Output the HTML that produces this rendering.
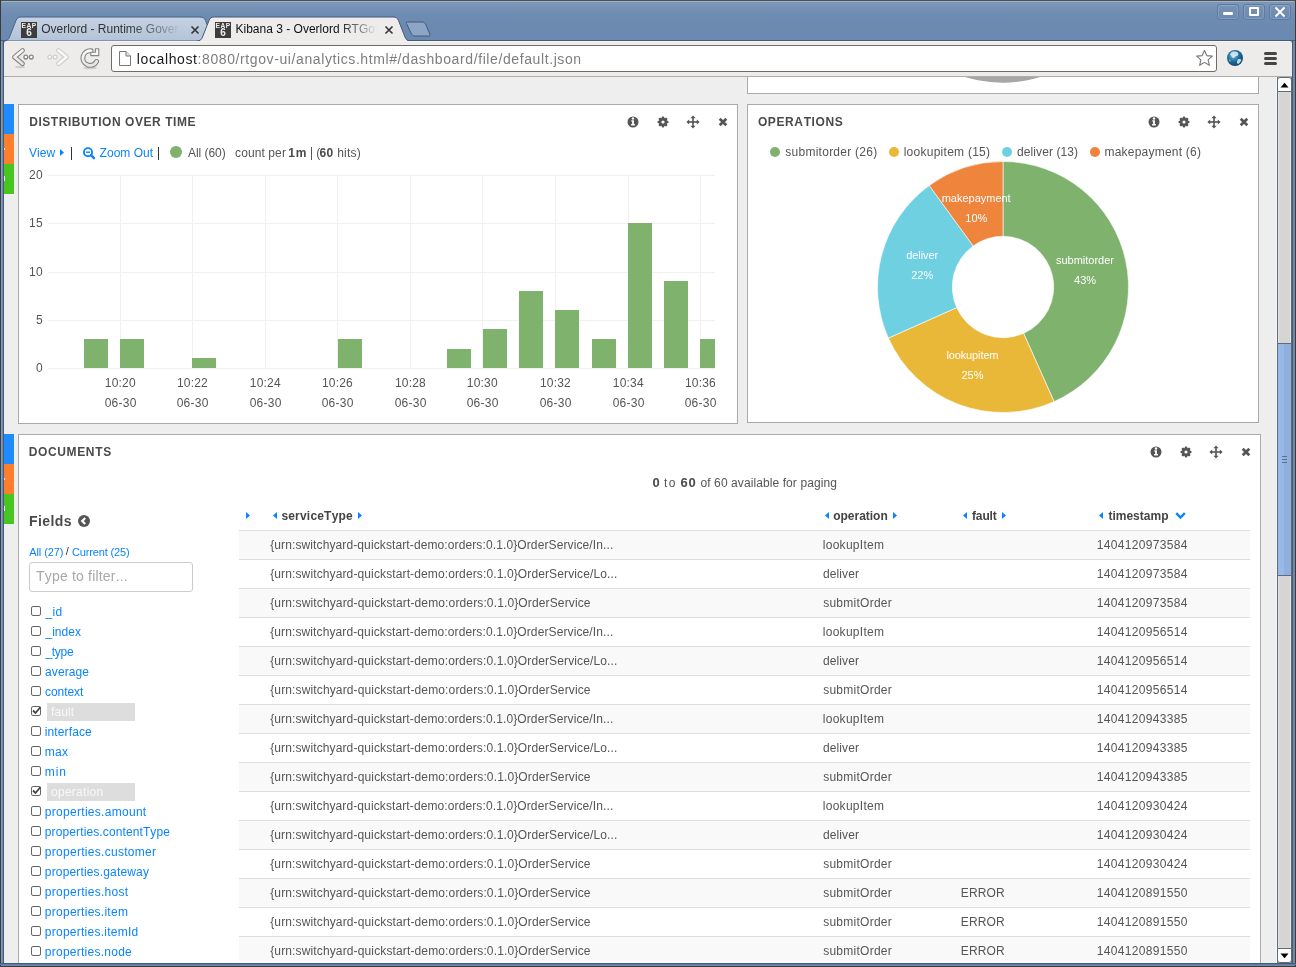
<!DOCTYPE html>
<html><head><meta charset="utf-8"><title>Kibana 3</title>
<style>
*{box-sizing:border-box;margin:0;padding:0}
html,body{width:1296px;height:967px;overflow:hidden;background:#3b3b3b;font-family:"Liberation Sans",sans-serif;font-kerning:none}
.abs{position:absolute}
.t{position:absolute;white-space:pre;line-height:1;font-kerning:none;transform:translateZ(0)}
</style></head><body>

<div class="abs" style="left:0;top:0;width:1296px;height:967px;background:#6b8ab1"></div>
<div class="abs" style="left:0;top:0;width:1296px;height:41px;background:linear-gradient(#9fb3cf 0,#9fb3cf 2px,#7b98b9 2px,#6e8bb1 15px,#6a89b0 100%);border-radius:5px 5px 0 0"></div>
<div class="abs" style="left:0;top:0;width:1296px;height:1px;background:#52504b"></div>
<div class="abs" style="left:0;top:40px;width:1296px;height:1px;background:#475c7b"></div>
<div class="abs" style="left:0;top:0;width:1px;height:967px;background:#3e3b36"></div>
<div class="abs" style="left:1px;top:41px;width:1px;height:926px;background:#7f9cc3"></div>
<div class="abs" style="left:3px;top:41px;width:1px;height:922px;background:#455b78"></div>
<div class="abs" style="left:1292px;top:41px;width:1px;height:922px;background:#4a5a70"></div>
<div class="abs" style="left:1295px;top:0;width:1px;height:967px;background:#3e3b36"></div>
<div class="abs" style="left:0;top:963px;width:1296px;height:1px;background:#465a78"></div>
<div class="abs" style="left:0;top:964px;width:1296px;height:1px;background:#607ca0"></div>
<div class="abs" style="left:0;top:966px;width:1296px;height:1px;background:#3e3b36"></div>
<div class="abs" style="left:1217px;top:4px;width:22px;height:16px;border:1px solid #5d7ba3;border-radius:3px;box-shadow:inset 0 0 0 1px rgba(255,255,255,0.15)"></div>
<div class="abs" style="left:1243px;top:4px;width:22px;height:16px;border:1px solid #5d7ba3;border-radius:3px;box-shadow:inset 0 0 0 1px rgba(255,255,255,0.15)"></div>
<div class="abs" style="left:1269px;top:4px;width:22px;height:16px;border:1px solid #5d7ba3;border-radius:3px;box-shadow:inset 0 0 0 1px rgba(255,255,255,0.15)"></div>
<div class="abs" style="left:1223px;top:12px;width:10px;height:3px;background:#fff;border-radius:1px"></div>
<div class="abs" style="left:1249px;top:7px;width:10px;height:9px;border:2px solid #fff;border-radius:1px"></div>
<svg class="abs" style="left:1274px;top:6px" width="12" height="12"><path d="M1.5 1.5L10.5 10.5M10.5 1.5L1.5 10.5" stroke="#fff" stroke-width="1.8"/></svg>
<svg class="abs" style="left:0;top:0" width="440" height="42">
<defs><linearGradient id="itab" x1="0" y1="0" x2="0" y2="1"><stop offset="0" stop-color="#c6d2e2"/><stop offset="1" stop-color="#b3c3d8"/></linearGradient></defs>
<path d="M4 41 C7 41 8.5 39.5 9.5 37 L16 20.5 C17 18 18.5 17 21.5 17 L200 17 C203 17 204.5 18 205.5 20.5 L212 37 C213 39.5 214.5 41 217 41 Z" fill="url(#itab)" stroke="#4a6184" stroke-width="1"/>
<path d="M197 41.5 C200 41 201.5 39.5 202.5 37 L209 20.5 C210 18 211.5 17 214.5 17 L393 17 C396 17 397.5 18 398.5 20.5 L405 37 C406 39.5 407.5 41 410 41.5 Z" fill="#edeceb"/>
<path d="M197 41 C200 41 201.5 39.5 202.5 37 L209 20.5 C210 18 211.5 17 214.5 17 L393 17 C396 17 397.5 18 398.5 20.5 L405 37 C406 39.5 407.5 41 410 41" fill="none" stroke="#42597c" stroke-width="1"/>
<path d="M406.5 23.5 C406 22.5 406.5 22 407.5 22 L422 22 C424 22 425 23 426 25 L430 34.5 C430.5 35.5 430 36 429 36 L415 36 C413 36 412 35 411.5 34 Z" fill="#8ea6c6" stroke="#42597c" stroke-width="1"/>
</svg>
<div class="abs" style="left:21px;top:22px;width:16px;height:16px;background:#3d3d3d"></div>
<div class="t" style="left:21.2px;top:22.8px;width:16px;text-align:center;font-size:6.6px;font-weight:bold;color:#eee;letter-spacing:0.6px">EAP</div>
<div class="t" style="left:21px;top:28px;width:16px;text-align:center;font-size:10px;font-weight:bold;color:#eee">6</div>
<div class="abs" style="left:215px;top:22px;width:16px;height:16px;background:#3d3d3d"></div>
<div class="t" style="left:215.2px;top:22.8px;width:16px;text-align:center;font-size:6.6px;font-weight:bold;color:#eee;letter-spacing:0.6px">EAP</div>
<div class="t" style="left:215px;top:28px;width:16px;text-align:center;font-size:10px;font-weight:bold;color:#eee">6</div>
<div class="t" style="left:41.13px;top:23.00px;font-size:12px;color:#2e3436;font-weight:normal;letter-spacing:0.000px;width:140px;overflow:hidden;-webkit-mask-image:linear-gradient(90deg,#000 0,#000 85px,rgba(0,0,0,0.5) 120px,transparent 140px)">Overlord - Runtime Gover</div>
<div class="t" style="left:235.52px;top:23.00px;font-size:12px;color:#111;font-weight:normal;letter-spacing:0.000px;width:141px;overflow:hidden;-webkit-mask-image:linear-gradient(90deg,#000 0,#000 100px,rgba(0,0,0,0.5) 125px,transparent 141px)">Kibana 3 - Overlord RTGov</div>
<svg class="abs" style="left:190px;top:25px" width="10" height="10"><path d="M1.5 1.5L8.5 8.5M8.5 1.5L1.5 8.5" stroke="#333" stroke-width="1.6"/></svg>
<svg class="abs" style="left:384px;top:25px" width="10" height="10"><path d="M1.5 1.5L8.5 8.5M8.5 1.5L1.5 8.5" stroke="#333" stroke-width="1.6"/></svg>
<div class="abs" style="left:4px;top:41px;width:1288px;height:36px;background:#edeceb;border-radius:3px 3px 0 0;border-top:1px solid #f6f4f1;border-bottom:1px solid #b0aeaa"></div>
<svg class="abs" style="left:0;top:44px" width="110" height="28">
<defs><linearGradient id="ibody" x1="0" y1="0" x2="0" y2="1"><stop offset="0" stop-color="#fbfbfb"/><stop offset="1" stop-color="#e4e4e3"/></linearGradient></defs>
<g fill="none" stroke-linecap="round" stroke-linejoin="round" transform="translate(0,-44)">
<ellipse cx="20" cy="67" rx="5" ry="1.2" fill="#cfcecc" stroke="none"/>
<path d="M22.5 50.5 L14.5 57.1 L22.5 63.7" stroke="#858583" stroke-width="4.8"/>
<path d="M22.5 50.5 L14.5 57.1 L22.5 63.7" stroke="url(#ibody)" stroke-width="2.6"/>
<circle cx="25.8" cy="57.1" r="1.9" stroke="#858583" stroke-width="1.3" fill="#fafafa"/>
<circle cx="31.3" cy="57.1" r="1.9" stroke="#858583" stroke-width="1.3" fill="#fafafa"/>
<path d="M58.5 50.5 L66.5 57.1 L58.5 63.7" stroke="#cdcdcb" stroke-width="4.8"/>
<path d="M58.5 50.5 L66.5 57.1 L58.5 63.7" stroke="#f7f7f6" stroke-width="2.6"/>
<circle cx="49.7" cy="57.1" r="1.9" stroke="#d0d0ce" stroke-width="1.3" fill="#f8f8f7"/>
<circle cx="55.1" cy="57.1" r="1.9" stroke="#d0d0ce" stroke-width="1.3" fill="#f8f8f7"/>
<ellipse cx="90" cy="68" rx="7" ry="1.3" fill="#cfcecc" stroke="none"/>
<path d="M91 50.8 A7.3 7.3 0 1 0 96.6 61.5" stroke="#858583" stroke-width="5"/>
<path d="M91 50.8 A7.3 7.3 0 1 0 96.6 61.5" stroke="url(#ibody)" stroke-width="2.8"/>
<path d="M90.8 52.2 L90.8 55.6 L98.8 55.6 L98.8 48.8 L95.4 48.8 L95.4 52.2 Z" fill="#f6f6f5" stroke="#858583" stroke-width="1.1" stroke-linejoin="round"/>
</g></svg>
<div class="abs" style="left:111px;top:45px;width:1106px;height:27px;background:#fff;border:1px solid #6f6b67;border-radius:3px"></div>
<svg class="abs" style="left:118px;top:50px" width="14" height="17"><path d="M1.5 1.5 H8 L12.5 6 V15.5 H1.5 Z" fill="#fff" stroke="#777" stroke-width="1"/><path d="M8 1.5 V6 H12.5" fill="#e6e6e6" stroke="#777" stroke-width="1"/></svg>
<div class="t" style="left:136.86px;top:52.0px;font-size:14px;letter-spacing:0.600px;color:#1a1a1a">localhost<span style="color:#7d7d7d">:8080/rtgov-ui/analytics.html#/dashboard/file/default.json</span></div>
<svg class="abs" style="left:1195px;top:49px" width="19" height="19"><path d="M9.5 1.5 L11.8 6.6 L17.3 7.1 L13.1 10.8 L14.4 16.3 L9.5 13.4 L4.6 16.3 L5.9 10.8 L1.7 7.1 L7.2 6.6 Z" fill="#fff" stroke="#777" stroke-width="1.1" stroke-linejoin="round"/></svg>
<svg class="abs" style="left:1226px;top:49px" width="18" height="18"><defs><radialGradient id="gl" cx="0.4" cy="0.35" r="0.7"><stop offset="0" stop-color="#7fc0e6"/><stop offset="0.5" stop-color="#1f6f9e"/><stop offset="1" stop-color="#0d3f66"/></radialGradient></defs>
<circle cx="9" cy="9" r="8" fill="url(#gl)"/><path d="M7 2.5 Q10 2 12 3.5 Q13 6 11 7 Q9 6.5 8.5 8.5 Q7 9.5 6 8 Q5 6 4 5.5 Q5 3 7 2.5 Z M12 10 Q15 9.5 15.5 11 Q14 14 12 15 Q10.5 14 11 12.5 Z M3 10 Q5 11 4.5 13 Q3.2 12 3 10Z" fill="#dfeef6" opacity="0.85"/></svg>
<div class="abs" style="left:1264px;top:52px;width:13px;height:3px;background:#454545;border-radius:1.5px"></div>
<div class="abs" style="left:1264px;top:57px;width:13px;height:3px;background:#454545;border-radius:1.5px"></div>
<div class="abs" style="left:1264px;top:62px;width:13px;height:3px;background:#454545;border-radius:1.5px"></div>
<div class="abs" style="left:4px;top:77px;width:1273px;height:886px;background:#eeeeee;overflow:hidden">
<div class="abs" style="left:0;top:27px;width:10px;height:30px;background:#1f8bfd"></div>
<div class="abs" style="left:0;top:57px;width:10px;height:30px;background:#fe7e2d"></div>
<div class="abs" style="left:0;top:87px;width:10px;height:30px;background:#48c51f"></div>
<div class="abs" style="left:0;top:71px;width:1px;height:2px;background:#fff"></div>
<div class="abs" style="left:0;top:99px;width:1px;height:5px;background:#fff"></div>
<div class="abs" style="left:0;top:357px;width:10px;height:30px;background:#1f8bfd"></div>
<div class="abs" style="left:0;top:387px;width:10px;height:30px;background:#fe7e2d"></div>
<div class="abs" style="left:0;top:417px;width:10px;height:30px;background:#48c51f"></div>
<div class="abs" style="left:0;top:401px;width:1px;height:2px;background:#fff"></div>
<div class="abs" style="left:0;top:429px;width:1px;height:5px;background:#fff"></div>
<div class="abs" style="left:743px;top:-17px;width:512px;height:34px;background:#fff;border:1px solid #aaaaaa"></div>
<svg class="abs" style="left:743px;top:0" width="512" height="16"><circle cx="255.60000000000002" cy="-120.8" r="126.5" fill="#a6a6a6"/></svg>
<div class="abs" style="left:14px;top:27px;width:720px;height:320px;background:#fff;border:1px solid #aaaaaa"></div>
<div class="abs" style="left:743px;top:27px;width:512px;height:319px;background:#fff;border:1px solid #aaaaaa"></div>
<div class="abs" style="left:14px;top:357px;width:1243px;height:600px;background:#fff;border:1px solid #aaaaaa"></div>
<div class="t" style="left:25.20px;top:39.00px;font-size:12px;color:#4a4a4a;font-weight:bold;letter-spacing:0.552px;">DISTRIBUTION OVER TIME</div>
<svg class="abs" style="left:622.00px;top:37.90px" width="14" height="14"><g transform="translate(7,7)"><circle r="5.5" fill="#555"/><circle cx="0" cy="-3.5" r="1.2" fill="#fff"/><path d="M-1.7 -1.7 H0.9 V2.1 H1.9 V3.6 H-1.9 V2.1 H-0.9 V-0.4 H-1.7 Z" fill="#fff"/></g></svg>
<svg class="abs" style="left:651.90px;top:37.90px" width="14" height="14"><g transform="translate(7,7)" fill="#555"><rect x="-1.3" y="-5.5" width="2.6" height="3" rx="1" transform="rotate(0)"/><rect x="-1.3" y="-5.5" width="2.6" height="3" rx="1" transform="rotate(45)"/><rect x="-1.3" y="-5.5" width="2.6" height="3" rx="1" transform="rotate(90)"/><rect x="-1.3" y="-5.5" width="2.6" height="3" rx="1" transform="rotate(135)"/><rect x="-1.3" y="-5.5" width="2.6" height="3" rx="1" transform="rotate(180)"/><rect x="-1.3" y="-5.5" width="2.6" height="3" rx="1" transform="rotate(225)"/><rect x="-1.3" y="-5.5" width="2.6" height="3" rx="1" transform="rotate(270)"/><rect x="-1.3" y="-5.5" width="2.6" height="3" rx="1" transform="rotate(315)"/><circle r="4.1"/><circle r="1.6" fill="#fff"/></g></svg>
<svg class="abs" style="left:681.90px;top:37.90px" width="14" height="14"><g transform="translate(7,7)" fill="#555"><rect x="-0.8" y="-4.5" width="1.6" height="9"/><rect x="-4.5" y="-0.8" width="9" height="1.6"/><path d="M0 -6.6 L2.6 -3.8 H-2.6 Z M0 6.6 L2.6 3.8 H-2.6 Z M-6.6 0 L-3.8 2.6 V-2.6 Z M6.6 0 L3.8 2.6 V-2.6 Z"/></g></svg>
<svg class="abs" style="left:712.60px;top:38.90px" width="12" height="12"><g transform="translate(6,6)"><path d="M-3.3 -3.3 L3.3 3.3 M3.3 -3.3 L-3.3 3.3" stroke="#555" stroke-width="2.7"/></g></svg>
<div class="t" style="left:753.91px;top:39.00px;font-size:12px;color:#4a4a4a;font-weight:bold;letter-spacing:0.613px;">OPERATIONS</div>
<svg class="abs" style="left:1143.00px;top:37.90px" width="14" height="14"><g transform="translate(7,7)"><circle r="5.5" fill="#555"/><circle cx="0" cy="-3.5" r="1.2" fill="#fff"/><path d="M-1.7 -1.7 H0.9 V2.1 H1.9 V3.6 H-1.9 V2.1 H-0.9 V-0.4 H-1.7 Z" fill="#fff"/></g></svg>
<svg class="abs" style="left:1172.90px;top:37.90px" width="14" height="14"><g transform="translate(7,7)" fill="#555"><rect x="-1.3" y="-5.5" width="2.6" height="3" rx="1" transform="rotate(0)"/><rect x="-1.3" y="-5.5" width="2.6" height="3" rx="1" transform="rotate(45)"/><rect x="-1.3" y="-5.5" width="2.6" height="3" rx="1" transform="rotate(90)"/><rect x="-1.3" y="-5.5" width="2.6" height="3" rx="1" transform="rotate(135)"/><rect x="-1.3" y="-5.5" width="2.6" height="3" rx="1" transform="rotate(180)"/><rect x="-1.3" y="-5.5" width="2.6" height="3" rx="1" transform="rotate(225)"/><rect x="-1.3" y="-5.5" width="2.6" height="3" rx="1" transform="rotate(270)"/><rect x="-1.3" y="-5.5" width="2.6" height="3" rx="1" transform="rotate(315)"/><circle r="4.1"/><circle r="1.6" fill="#fff"/></g></svg>
<svg class="abs" style="left:1202.90px;top:37.90px" width="14" height="14"><g transform="translate(7,7)" fill="#555"><rect x="-0.8" y="-4.5" width="1.6" height="9"/><rect x="-4.5" y="-0.8" width="9" height="1.6"/><path d="M0 -6.6 L2.6 -3.8 H-2.6 Z M0 6.6 L2.6 3.8 H-2.6 Z M-6.6 0 L-3.8 2.6 V-2.6 Z M6.6 0 L3.8 2.6 V-2.6 Z"/></g></svg>
<svg class="abs" style="left:1233.60px;top:38.90px" width="12" height="12"><g transform="translate(6,6)"><path d="M-3.3 -3.3 L3.3 3.3 M3.3 -3.3 L-3.3 3.3" stroke="#555" stroke-width="2.7"/></g></svg>
<div class="t" style="left:24.70px;top:369.00px;font-size:12px;color:#4a4a4a;font-weight:bold;letter-spacing:0.642px;">DOCUMENTS</div>
<svg class="abs" style="left:1145.00px;top:367.90px" width="14" height="14"><g transform="translate(7,7)"><circle r="5.5" fill="#555"/><circle cx="0" cy="-3.5" r="1.2" fill="#fff"/><path d="M-1.7 -1.7 H0.9 V2.1 H1.9 V3.6 H-1.9 V2.1 H-0.9 V-0.4 H-1.7 Z" fill="#fff"/></g></svg>
<svg class="abs" style="left:1174.90px;top:367.90px" width="14" height="14"><g transform="translate(7,7)" fill="#555"><rect x="-1.3" y="-5.5" width="2.6" height="3" rx="1" transform="rotate(0)"/><rect x="-1.3" y="-5.5" width="2.6" height="3" rx="1" transform="rotate(45)"/><rect x="-1.3" y="-5.5" width="2.6" height="3" rx="1" transform="rotate(90)"/><rect x="-1.3" y="-5.5" width="2.6" height="3" rx="1" transform="rotate(135)"/><rect x="-1.3" y="-5.5" width="2.6" height="3" rx="1" transform="rotate(180)"/><rect x="-1.3" y="-5.5" width="2.6" height="3" rx="1" transform="rotate(225)"/><rect x="-1.3" y="-5.5" width="2.6" height="3" rx="1" transform="rotate(270)"/><rect x="-1.3" y="-5.5" width="2.6" height="3" rx="1" transform="rotate(315)"/><circle r="4.1"/><circle r="1.6" fill="#fff"/></g></svg>
<svg class="abs" style="left:1204.90px;top:367.90px" width="14" height="14"><g transform="translate(7,7)" fill="#555"><rect x="-0.8" y="-4.5" width="1.6" height="9"/><rect x="-4.5" y="-0.8" width="9" height="1.6"/><path d="M0 -6.6 L2.6 -3.8 H-2.6 Z M0 6.6 L2.6 3.8 H-2.6 Z M-6.6 0 L-3.8 2.6 V-2.6 Z M6.6 0 L3.8 2.6 V-2.6 Z"/></g></svg>
<svg class="abs" style="left:1235.60px;top:368.90px" width="12" height="12"><g transform="translate(6,6)"><path d="M-3.3 -3.3 L3.3 3.3 M3.3 -3.3 L-3.3 3.3" stroke="#555" stroke-width="2.7"/></g></svg>
<div class="t" style="left:24.95px;top:70.00px;font-size:12px;color:#0a84fd;font-weight:normal;letter-spacing:0.071px;">View</div>
<svg class="abs" style="left:56px;top:72px" width="5" height="7"><path d="M0 0 L4 3.5 L0 7Z" fill="#0a84fd"/></svg>
<div class="abs" style="left:67px;top:70px;width:1px;height:13px;background:#333"></div>
<svg class="abs" style="left:78px;top:69px" width="14" height="14"><circle cx="6" cy="6.2" r="4.1" fill="none" stroke="#0a84fd" stroke-width="1.9"/><path d="M4 6.2 H8" stroke="#0a84fd" stroke-width="1.4"/><path d="M9 9.2 L12 12.2" stroke="#0a84fd" stroke-width="2.4" stroke-linecap="round"/></svg>
<div class="t" style="left:95.62px;top:70.00px;font-size:12px;color:#0a84fd;font-weight:normal;letter-spacing:0.017px;">Zoom Out</div>
<div class="abs" style="left:154px;top:70px;width:1px;height:13px;background:#333"></div>
<div class="abs" style="left:166px;top:69px;width:12px;height:12px;border-radius:50%;background:#7eb26d"></div>
<div class="t" style="left:183.98px;top:70.00px;font-size:12px;color:#555;font-weight:normal;letter-spacing:-0.035px;">All (60)</div>
<div class="t" style="left:231.09px;top:70.00px;font-size:12px;color:#555;font-weight:normal;letter-spacing:0.097px;">count per</div>
<div class="t" style="left:284.24px;top:70.00px;font-size:12px;color:#4a4a4a;font-weight:bold;letter-spacing:0.756px;">1m</div>
<div class="abs" style="left:307px;top:70px;width:1px;height:13px;background:#555"></div>
<div class="t" style="left:312.26px;top:70.00px;font-size:12px;color:#555;font-weight:normal;letter-spacing:0.004px;">(</div>
<div class="t" style="left:315.46px;top:70.00px;font-size:12px;color:#4a4a4a;font-weight:bold;letter-spacing:0.484px;">60</div>
<div class="t" style="left:333.17px;top:70.00px;font-size:12px;color:#555;font-weight:normal;letter-spacing:0.227px;">hits)</div>
<svg class="abs" style="left:0;top:0" width="1273" height="886"><rect x="44" y="291" width="667" height="1" fill="#f0f0f0"/><rect x="44" y="243" width="667" height="1" fill="#f0f0f0"/><rect x="44" y="195" width="667" height="1" fill="#f0f0f0"/><rect x="44" y="146" width="667" height="1" fill="#f0f0f0"/><rect x="44" y="98" width="667" height="1" fill="#f0f0f0"/><rect x="116" y="98" width="1" height="193" fill="#f0f0f0"/><rect x="188" y="98" width="1" height="193" fill="#f0f0f0"/><rect x="261" y="98" width="1" height="193" fill="#f0f0f0"/><rect x="333" y="98" width="1" height="193" fill="#f0f0f0"/><rect x="406" y="98" width="1" height="193" fill="#f0f0f0"/><rect x="478" y="98" width="1" height="193" fill="#f0f0f0"/><rect x="551" y="98" width="1" height="193" fill="#f0f0f0"/><rect x="624" y="98" width="1" height="193" fill="#f0f0f0"/><rect x="696" y="98" width="1" height="193" fill="#f0f0f0"/><rect x="80" y="262" width="24" height="29" fill="#7eb26d"/><rect x="116" y="262" width="24" height="29" fill="#7eb26d"/><rect x="188" y="281" width="24" height="10" fill="#7eb26d"/><rect x="334" y="262" width="24" height="29" fill="#7eb26d"/><rect x="443" y="272" width="24" height="19" fill="#7eb26d"/><rect x="479" y="252" width="24" height="39" fill="#7eb26d"/><rect x="515" y="214" width="24" height="77" fill="#7eb26d"/><rect x="551" y="233" width="24" height="58" fill="#7eb26d"/><rect x="588" y="262" width="24" height="29" fill="#7eb26d"/><rect x="624" y="146" width="24" height="145" fill="#7eb26d"/><rect x="660" y="204" width="24" height="87" fill="#7eb26d"/><rect x="696" y="262" width="15" height="29" fill="#7eb26d"/></svg>
<div class="t" style="left:31.99px;top:285.00px;font-size:12px;color:#555;font-weight:normal;letter-spacing:0.326px;">0</div>
<div class="t" style="left:32.03px;top:237.00px;font-size:12px;color:#555;font-weight:normal;letter-spacing:0.326px;">5</div>
<div class="t" style="left:24.99px;top:189.00px;font-size:12px;color:#555;font-weight:normal;letter-spacing:0.326px;">10</div>
<div class="t" style="left:25.03px;top:140.00px;font-size:12px;color:#555;font-weight:normal;letter-spacing:0.326px;">15</div>
<div class="t" style="left:24.99px;top:92.00px;font-size:12px;color:#555;font-weight:normal;letter-spacing:0.326px;">20</div>
<div class="t" style="left:100.87px;top:300.00px;font-size:12px;color:#555;font-weight:normal;letter-spacing:0.194px;">10:20</div>
<div class="t" style="left:100.63px;top:320.00px;font-size:12px;color:#555;font-weight:normal;letter-spacing:0.262px;">06-30</div>
<div class="t" style="left:172.94px;top:300.00px;font-size:12px;color:#555;font-weight:normal;letter-spacing:0.194px;">10:22</div>
<div class="t" style="left:172.63px;top:320.00px;font-size:12px;color:#555;font-weight:normal;letter-spacing:0.262px;">06-30</div>
<div class="t" style="left:245.82px;top:300.00px;font-size:12px;color:#555;font-weight:normal;letter-spacing:0.194px;">10:24</div>
<div class="t" style="left:245.63px;top:320.00px;font-size:12px;color:#555;font-weight:normal;letter-spacing:0.262px;">06-30</div>
<div class="t" style="left:317.90px;top:300.00px;font-size:12px;color:#555;font-weight:normal;letter-spacing:0.194px;">10:26</div>
<div class="t" style="left:317.63px;top:320.00px;font-size:12px;color:#555;font-weight:normal;letter-spacing:0.262px;">06-30</div>
<div class="t" style="left:390.90px;top:300.00px;font-size:12px;color:#555;font-weight:normal;letter-spacing:0.194px;">10:28</div>
<div class="t" style="left:390.63px;top:320.00px;font-size:12px;color:#555;font-weight:normal;letter-spacing:0.262px;">06-30</div>
<div class="t" style="left:462.87px;top:300.00px;font-size:12px;color:#555;font-weight:normal;letter-spacing:0.194px;">10:30</div>
<div class="t" style="left:462.63px;top:320.00px;font-size:12px;color:#555;font-weight:normal;letter-spacing:0.262px;">06-30</div>
<div class="t" style="left:535.94px;top:300.00px;font-size:12px;color:#555;font-weight:normal;letter-spacing:0.194px;">10:32</div>
<div class="t" style="left:535.63px;top:320.00px;font-size:12px;color:#555;font-weight:normal;letter-spacing:0.262px;">06-30</div>
<div class="t" style="left:608.82px;top:300.00px;font-size:12px;color:#555;font-weight:normal;letter-spacing:0.194px;">10:34</div>
<div class="t" style="left:608.63px;top:320.00px;font-size:12px;color:#555;font-weight:normal;letter-spacing:0.262px;">06-30</div>
<div class="t" style="left:680.90px;top:300.00px;font-size:12px;color:#555;font-weight:normal;letter-spacing:0.194px;">10:36</div>
<div class="t" style="left:680.63px;top:320.00px;font-size:12px;color:#555;font-weight:normal;letter-spacing:0.262px;">06-30</div>
<div class="abs" style="left:766px;top:70px;width:10px;height:10px;border-radius:50%;background:#7eb26d"></div>
<div class="t" style="left:781.37px;top:69.00px;font-size:12px;color:#555;font-weight:normal;letter-spacing:0.250px;">submitorder (26)</div>
<div class="abs" style="left:885.4px;top:70px;width:10px;height:10px;border-radius:50%;background:#eab839"></div>
<div class="t" style="left:899.69px;top:69.00px;font-size:12px;color:#555;font-weight:normal;letter-spacing:0.261px;">lookupitem (15)</div>
<div class="abs" style="left:998px;top:70px;width:10px;height:10px;border-radius:50%;background:#6ed0e0"></div>
<div class="t" style="left:1013.10px;top:69.00px;font-size:12px;color:#555;font-weight:normal;letter-spacing:0.075px;">deliver (13)</div>
<div class="abs" style="left:1086.3px;top:70px;width:10px;height:10px;border-radius:50%;background:#ef843c"></div>
<div class="t" style="left:1100.50px;top:69.00px;font-size:12px;color:#555;font-weight:normal;letter-spacing:0.219px;">makepayment (6)</div>
<svg class="abs" style="left:0;top:0" width="1273" height="886"><path d="M999.00 84.50 A125.5 125.5 0 0 1 1050.05 324.65 L1019.62 256.32 A50.7 50.7 0 0 0 999.00 159.30 Z" fill="#7eb26d" stroke="#fff" stroke-width="0.6"/><path d="M1050.05 324.65 A125.5 125.5 0 0 1 884.35 261.05 L952.68 230.62 A50.7 50.7 0 0 0 1019.62 256.32 Z" fill="#eab839" stroke="#fff" stroke-width="0.6"/><path d="M884.35 261.05 A125.5 125.5 0 0 1 925.23 108.47 L969.20 168.98 A50.7 50.7 0 0 0 952.68 230.62 Z" fill="#6ed0e0" stroke="#fff" stroke-width="0.6"/><path d="M925.23 108.47 A125.5 125.5 0 0 1 999.00 84.50 L999.00 159.30 A50.7 50.7 0 0 0 969.20 168.98 Z" fill="#ef843c" stroke="#fff" stroke-width="0.6"/></svg>
<div class="t" style="left:1051.93px;top:177.50px;font-size:11px;color:#fff;font-weight:normal;letter-spacing:-0.007px;">submitorder</div>
<div class="t" style="left:1070.07px;top:197.50px;font-size:11px;color:#fff;font-weight:normal;letter-spacing:-0.005px;">43%</div>
<div class="t" style="left:942.43px;top:272.50px;font-size:11px;color:#fff;font-weight:normal;letter-spacing:-0.120px;">lookupitem</div>
<div class="t" style="left:957.42px;top:292.50px;font-size:11px;color:#fff;font-weight:normal;letter-spacing:-0.005px;">25%</div>
<div class="t" style="left:902.13px;top:172.50px;font-size:11px;color:#fff;font-weight:normal;letter-spacing:-0.058px;">deliver</div>
<div class="t" style="left:907.22px;top:192.50px;font-size:11px;color:#fff;font-weight:normal;letter-spacing:-0.005px;">22%</div>
<div class="t" style="left:937.67px;top:115.50px;font-size:11px;color:#fff;font-weight:normal;letter-spacing:-0.008px;">makepayment</div>
<div class="t" style="left:961.27px;top:135.50px;font-size:11px;color:#fff;font-weight:normal;letter-spacing:-0.005px;">10%</div>
<div class="t" style="left:648.49px;top:399.00px;font-size:13px;color:#4a4a4a;font-weight:bold;letter-spacing:-0.230px;">0</div>
<div class="t" style="left:660.12px;top:400.00px;font-size:12px;color:#555;font-weight:normal;letter-spacing:1.378px;">to</div>
<div class="t" style="left:676.42px;top:399.00px;font-size:13px;color:#4a4a4a;font-weight:bold;letter-spacing:0.749px;">60</div>
<div class="t" style="left:696.50px;top:400.00px;font-size:12px;color:#555;font-weight:normal;letter-spacing:0.091px;">of 60 available for paging</div>
<div class="t" style="left:25.06px;top:437.00px;font-size:14px;color:#4a4a4a;font-weight:bold;letter-spacing:0.411px;">Fields</div>
<svg class="abs" style="left:74px;top:438px" width="12" height="12"><circle cx="6" cy="6" r="6" fill="#555"/><path d="M7.2 3 L4.2 6 L7.2 9" fill="none" stroke="#fff" stroke-width="2.2"/></svg>
<div class="t" style="left:25.18px;top:469.50px;font-size:11px;color:#0a84fd;font-weight:normal;letter-spacing:-0.077px;">All (27)</div>
<div class="t" style="left:61.80px;top:468.50px;font-size:11px;color:#333;font-weight:normal;letter-spacing:-0.056px;">/</div>
<div class="t" style="left:67.94px;top:469.50px;font-size:11px;color:#0a84fd;font-weight:normal;letter-spacing:-0.141px;">Current (25)</div>
<div class="abs" style="left:25px;top:485px;width:164px;height:30px;border:1px solid #cccccc;border-radius:3px;background:#fff"></div>
<div class="t" style="left:31.99px;top:492.00px;font-size:14px;color:#a8a8a8;font-weight:normal;letter-spacing:0.187px;">Type to filter...</div>
<div class="abs" style="left:27px;top:529px;width:10px;height:10px;border:1px solid #666;border-radius:2px;background:#fff"></div>
<div class="t" style="left:41.38px;top:529.00px;font-size:12px;color:#0a84fd;font-weight:normal;letter-spacing:0.389px;">_id</div>
<div class="abs" style="left:27px;top:549px;width:10px;height:10px;border:1px solid #666;border-radius:2px;background:#fff"></div>
<div class="t" style="left:41.38px;top:549.00px;font-size:12px;color:#0a84fd;font-weight:normal;letter-spacing:0.077px;">_index</div>
<div class="abs" style="left:27px;top:569px;width:10px;height:10px;border:1px solid #666;border-radius:2px;background:#fff"></div>
<div class="t" style="left:41.38px;top:569.00px;font-size:12px;color:#0a84fd;font-weight:normal;letter-spacing:-0.276px;">_type</div>
<div class="abs" style="left:27px;top:589px;width:10px;height:10px;border:1px solid #666;border-radius:2px;background:#fff"></div>
<div class="t" style="left:41.09px;top:589.00px;font-size:12px;color:#0a84fd;font-weight:normal;letter-spacing:0.080px;">average</div>
<div class="abs" style="left:27px;top:609px;width:10px;height:10px;border:1px solid #666;border-radius:2px;background:#fff"></div>
<div class="t" style="left:41.09px;top:609.00px;font-size:12px;color:#0a84fd;font-weight:normal;letter-spacing:-0.082px;">context</div>
<div class="abs" style="left:27px;top:629px;width:10px;height:10px;border:1px solid #666;border-radius:2px;background:#fff"></div>
<svg class="abs" style="left:27px;top:628px" width="12" height="11"><path d="M2 5.5 L4.5 8 L9.5 2" fill="none" stroke="#444" stroke-width="1.8"/></svg>
<div class="abs" style="left:43px;top:626px;width:88px;height:18px;background:#dddddd"></div>
<div class="t" style="left:47.03px;top:629.00px;font-size:12px;color:#f8f8f8;font-weight:normal;letter-spacing:0.094px;">fault</div>
<div class="abs" style="left:27px;top:649px;width:10px;height:10px;border:1px solid #666;border-radius:2px;background:#fff"></div>
<div class="t" style="left:40.80px;top:649.00px;font-size:12px;color:#0a84fd;font-weight:normal;letter-spacing:0.114px;">interface</div>
<div class="abs" style="left:27px;top:669px;width:10px;height:10px;border:1px solid #666;border-radius:2px;background:#fff"></div>
<div class="t" style="left:40.80px;top:669.00px;font-size:12px;color:#0a84fd;font-weight:normal;letter-spacing:0.278px;">max</div>
<div class="abs" style="left:27px;top:689px;width:10px;height:10px;border:1px solid #666;border-radius:2px;background:#fff"></div>
<div class="t" style="left:40.80px;top:689.00px;font-size:12px;color:#0a84fd;font-weight:normal;letter-spacing:0.870px;">min</div>
<div class="abs" style="left:27px;top:709px;width:10px;height:10px;border:1px solid #666;border-radius:2px;background:#fff"></div>
<svg class="abs" style="left:27px;top:708px" width="12" height="11"><path d="M2 5.5 L4.5 8 L9.5 2" fill="none" stroke="#444" stroke-width="1.8"/></svg>
<div class="abs" style="left:43px;top:706px;width:88px;height:18px;background:#dddddd"></div>
<div class="t" style="left:47.00px;top:709.00px;font-size:12px;color:#f8f8f8;font-weight:normal;letter-spacing:0.268px;">operation</div>
<div class="abs" style="left:27px;top:729px;width:10px;height:10px;border:1px solid #666;border-radius:2px;background:#fff"></div>
<div class="t" style="left:40.83px;top:729.00px;font-size:12px;color:#0a84fd;font-weight:normal;letter-spacing:0.290px;">properties.amount</div>
<div class="abs" style="left:27px;top:749px;width:10px;height:10px;border:1px solid #666;border-radius:2px;background:#fff"></div>
<div class="t" style="left:40.83px;top:749.00px;font-size:12px;color:#0a84fd;font-weight:normal;letter-spacing:0.113px;">properties.contentType</div>
<div class="abs" style="left:27px;top:769px;width:10px;height:10px;border:1px solid #666;border-radius:2px;background:#fff"></div>
<div class="t" style="left:40.83px;top:769.00px;font-size:12px;color:#0a84fd;font-weight:normal;letter-spacing:0.285px;">properties.customer</div>
<div class="abs" style="left:27px;top:789px;width:10px;height:10px;border:1px solid #666;border-radius:2px;background:#fff"></div>
<div class="t" style="left:40.83px;top:789.00px;font-size:12px;color:#0a84fd;font-weight:normal;letter-spacing:0.159px;">properties.gateway</div>
<div class="abs" style="left:27px;top:809px;width:10px;height:10px;border:1px solid #666;border-radius:2px;background:#fff"></div>
<div class="t" style="left:40.83px;top:809.00px;font-size:12px;color:#0a84fd;font-weight:normal;letter-spacing:0.277px;">properties.host</div>
<div class="abs" style="left:27px;top:829px;width:10px;height:10px;border:1px solid #666;border-radius:2px;background:#fff"></div>
<div class="t" style="left:40.83px;top:829.00px;font-size:12px;color:#0a84fd;font-weight:normal;letter-spacing:0.264px;">properties.item</div>
<div class="abs" style="left:27px;top:849px;width:10px;height:10px;border:1px solid #666;border-radius:2px;background:#fff"></div>
<div class="t" style="left:40.83px;top:849.00px;font-size:12px;color:#0a84fd;font-weight:normal;letter-spacing:0.248px;">properties.itemId</div>
<div class="abs" style="left:27px;top:869px;width:10px;height:10px;border:1px solid #666;border-radius:2px;background:#fff"></div>
<div class="t" style="left:40.83px;top:869.00px;font-size:12px;color:#0a84fd;font-weight:normal;letter-spacing:0.251px;">properties.node</div>
<svg class="abs" style="left:242px;top:435px" width="4" height="7"><path d="M0 0 L4 3.5 L0 7Z" fill="#0a84fd"/></svg>
<svg class="abs" style="left:269px;top:435px" width="4" height="7"><path d="M4 0 L0 3.5 L4 7Z" fill="#0a84fd"/></svg>
<div class="t" style="left:277.38px;top:433.00px;font-size:12px;color:#444;font-weight:bold;letter-spacing:0.195px;">serviceType</div>
<svg class="abs" style="left:354px;top:435px" width="4" height="7"><path d="M0 0 L4 3.5 L0 7Z" fill="#0a84fd"/></svg>
<svg class="abs" style="left:821px;top:435px" width="4" height="7"><path d="M4 0 L0 3.5 L4 7Z" fill="#0a84fd"/></svg>
<div class="t" style="left:829.23px;top:433.00px;font-size:12px;color:#444;font-weight:bold;letter-spacing:-0.019px;">operation</div>
<svg class="abs" style="left:889px;top:435px" width="4" height="7"><path d="M0 0 L4 3.5 L0 7Z" fill="#0a84fd"/></svg>
<svg class="abs" style="left:959px;top:435px" width="4" height="7"><path d="M4 0 L0 3.5 L4 7Z" fill="#0a84fd"/></svg>
<div class="t" style="left:967.99px;top:433.00px;font-size:12px;color:#444;font-weight:bold;letter-spacing:-0.120px;">fault</div>
<svg class="abs" style="left:998px;top:435px" width="4" height="7"><path d="M0 0 L4 3.5 L0 7Z" fill="#0a84fd"/></svg>
<svg class="abs" style="left:1095px;top:435px" width="4" height="7"><path d="M4 0 L0 3.5 L4 7Z" fill="#0a84fd"/></svg>
<div class="t" style="left:1104.45px;top:433.00px;font-size:12px;color:#444;font-weight:bold;letter-spacing:0.003px;">timestamp</div>
<svg class="abs" style="left:1170.5px;top:435px" width="11" height="8"><path d="M1.2 1.2 L5.5 5.5 L9.8 1.2" fill="none" stroke="#0a84fd" stroke-width="2.4"/></svg>
<div class="abs" style="left:235px;top:453px;width:1011px;height:1px;background:#dddddd"></div>
<div class="abs" style="left:235px;top:454px;width:1011px;height:28px;background:#f9f9f9"></div>
<div class="abs" style="left:235px;top:482px;width:1011px;height:1px;background:#dddddd"></div>
<div class="t" style="left:266.20px;top:462.00px;font-size:12px;color:#555;font-weight:normal;letter-spacing:0.111px;">{urn:switchyard-quickstart-demo:orders:0.1.0}OrderService/In...</div>
<div class="t" style="left:818.69px;top:462.00px;font-size:12px;color:#555;font-weight:normal;letter-spacing:0.300px;">lookupItem</div>
<div class="t" style="left:1092.79px;top:462.00px;font-size:12px;color:#555;font-weight:normal;letter-spacing:0.326px;">1404120973584</div>
<div class="abs" style="left:235px;top:483px;width:1011px;height:28px;background:#ffffff"></div>
<div class="abs" style="left:235px;top:511px;width:1011px;height:1px;background:#dddddd"></div>
<div class="t" style="left:266.20px;top:491.00px;font-size:12px;color:#555;font-weight:normal;letter-spacing:0.123px;">{urn:switchyard-quickstart-demo:orders:0.1.0}OrderService/Lo...</div>
<div class="t" style="left:819.00px;top:491.00px;font-size:12px;color:#555;font-weight:normal;letter-spacing:0.109px;">deliver</div>
<div class="t" style="left:1092.79px;top:491.00px;font-size:12px;color:#555;font-weight:normal;letter-spacing:0.326px;">1404120973584</div>
<div class="abs" style="left:235px;top:512px;width:1011px;height:28px;background:#f9f9f9"></div>
<div class="abs" style="left:235px;top:540px;width:1011px;height:1px;background:#dddddd"></div>
<div class="t" style="left:266.20px;top:520.00px;font-size:12px;color:#555;font-weight:normal;letter-spacing:0.135px;">{urn:switchyard-quickstart-demo:orders:0.1.0}OrderService</div>
<div class="t" style="left:819.17px;top:520.00px;font-size:12px;color:#555;font-weight:normal;letter-spacing:0.262px;">submitOrder</div>
<div class="t" style="left:1092.79px;top:520.00px;font-size:12px;color:#555;font-weight:normal;letter-spacing:0.326px;">1404120973584</div>
<div class="abs" style="left:235px;top:541px;width:1011px;height:28px;background:#ffffff"></div>
<div class="abs" style="left:235px;top:569px;width:1011px;height:1px;background:#dddddd"></div>
<div class="t" style="left:266.20px;top:549.00px;font-size:12px;color:#555;font-weight:normal;letter-spacing:0.111px;">{urn:switchyard-quickstart-demo:orders:0.1.0}OrderService/In...</div>
<div class="t" style="left:818.69px;top:549.00px;font-size:12px;color:#555;font-weight:normal;letter-spacing:0.300px;">lookupItem</div>
<div class="t" style="left:1092.79px;top:549.00px;font-size:12px;color:#555;font-weight:normal;letter-spacing:0.326px;">1404120956514</div>
<div class="abs" style="left:235px;top:570px;width:1011px;height:28px;background:#f9f9f9"></div>
<div class="abs" style="left:235px;top:598px;width:1011px;height:1px;background:#dddddd"></div>
<div class="t" style="left:266.20px;top:578.00px;font-size:12px;color:#555;font-weight:normal;letter-spacing:0.123px;">{urn:switchyard-quickstart-demo:orders:0.1.0}OrderService/Lo...</div>
<div class="t" style="left:819.00px;top:578.00px;font-size:12px;color:#555;font-weight:normal;letter-spacing:0.109px;">deliver</div>
<div class="t" style="left:1092.79px;top:578.00px;font-size:12px;color:#555;font-weight:normal;letter-spacing:0.326px;">1404120956514</div>
<div class="abs" style="left:235px;top:599px;width:1011px;height:28px;background:#ffffff"></div>
<div class="abs" style="left:235px;top:627px;width:1011px;height:1px;background:#dddddd"></div>
<div class="t" style="left:266.20px;top:607.00px;font-size:12px;color:#555;font-weight:normal;letter-spacing:0.135px;">{urn:switchyard-quickstart-demo:orders:0.1.0}OrderService</div>
<div class="t" style="left:819.17px;top:607.00px;font-size:12px;color:#555;font-weight:normal;letter-spacing:0.262px;">submitOrder</div>
<div class="t" style="left:1092.79px;top:607.00px;font-size:12px;color:#555;font-weight:normal;letter-spacing:0.326px;">1404120956514</div>
<div class="abs" style="left:235px;top:628px;width:1011px;height:28px;background:#f9f9f9"></div>
<div class="abs" style="left:235px;top:656px;width:1011px;height:1px;background:#dddddd"></div>
<div class="t" style="left:266.20px;top:636.00px;font-size:12px;color:#555;font-weight:normal;letter-spacing:0.111px;">{urn:switchyard-quickstart-demo:orders:0.1.0}OrderService/In...</div>
<div class="t" style="left:818.69px;top:636.00px;font-size:12px;color:#555;font-weight:normal;letter-spacing:0.300px;">lookupItem</div>
<div class="t" style="left:1092.79px;top:636.00px;font-size:12px;color:#555;font-weight:normal;letter-spacing:0.326px;">1404120943385</div>
<div class="abs" style="left:235px;top:657px;width:1011px;height:28px;background:#ffffff"></div>
<div class="abs" style="left:235px;top:685px;width:1011px;height:1px;background:#dddddd"></div>
<div class="t" style="left:266.20px;top:665.00px;font-size:12px;color:#555;font-weight:normal;letter-spacing:0.123px;">{urn:switchyard-quickstart-demo:orders:0.1.0}OrderService/Lo...</div>
<div class="t" style="left:819.00px;top:665.00px;font-size:12px;color:#555;font-weight:normal;letter-spacing:0.109px;">deliver</div>
<div class="t" style="left:1092.79px;top:665.00px;font-size:12px;color:#555;font-weight:normal;letter-spacing:0.326px;">1404120943385</div>
<div class="abs" style="left:235px;top:686px;width:1011px;height:28px;background:#f9f9f9"></div>
<div class="abs" style="left:235px;top:714px;width:1011px;height:1px;background:#dddddd"></div>
<div class="t" style="left:266.20px;top:694.00px;font-size:12px;color:#555;font-weight:normal;letter-spacing:0.135px;">{urn:switchyard-quickstart-demo:orders:0.1.0}OrderService</div>
<div class="t" style="left:819.17px;top:694.00px;font-size:12px;color:#555;font-weight:normal;letter-spacing:0.262px;">submitOrder</div>
<div class="t" style="left:1092.79px;top:694.00px;font-size:12px;color:#555;font-weight:normal;letter-spacing:0.326px;">1404120943385</div>
<div class="abs" style="left:235px;top:715px;width:1011px;height:28px;background:#ffffff"></div>
<div class="abs" style="left:235px;top:743px;width:1011px;height:1px;background:#dddddd"></div>
<div class="t" style="left:266.20px;top:723.00px;font-size:12px;color:#555;font-weight:normal;letter-spacing:0.111px;">{urn:switchyard-quickstart-demo:orders:0.1.0}OrderService/In...</div>
<div class="t" style="left:818.69px;top:723.00px;font-size:12px;color:#555;font-weight:normal;letter-spacing:0.300px;">lookupItem</div>
<div class="t" style="left:1092.79px;top:723.00px;font-size:12px;color:#555;font-weight:normal;letter-spacing:0.326px;">1404120930424</div>
<div class="abs" style="left:235px;top:744px;width:1011px;height:28px;background:#f9f9f9"></div>
<div class="abs" style="left:235px;top:772px;width:1011px;height:1px;background:#dddddd"></div>
<div class="t" style="left:266.20px;top:752.00px;font-size:12px;color:#555;font-weight:normal;letter-spacing:0.123px;">{urn:switchyard-quickstart-demo:orders:0.1.0}OrderService/Lo...</div>
<div class="t" style="left:819.00px;top:752.00px;font-size:12px;color:#555;font-weight:normal;letter-spacing:0.109px;">deliver</div>
<div class="t" style="left:1092.79px;top:752.00px;font-size:12px;color:#555;font-weight:normal;letter-spacing:0.326px;">1404120930424</div>
<div class="abs" style="left:235px;top:773px;width:1011px;height:28px;background:#ffffff"></div>
<div class="abs" style="left:235px;top:801px;width:1011px;height:1px;background:#dddddd"></div>
<div class="t" style="left:266.20px;top:781.00px;font-size:12px;color:#555;font-weight:normal;letter-spacing:0.135px;">{urn:switchyard-quickstart-demo:orders:0.1.0}OrderService</div>
<div class="t" style="left:819.17px;top:781.00px;font-size:12px;color:#555;font-weight:normal;letter-spacing:0.262px;">submitOrder</div>
<div class="t" style="left:1092.79px;top:781.00px;font-size:12px;color:#555;font-weight:normal;letter-spacing:0.326px;">1404120930424</div>
<div class="abs" style="left:235px;top:802px;width:1011px;height:28px;background:#f9f9f9"></div>
<div class="abs" style="left:235px;top:830px;width:1011px;height:1px;background:#dddddd"></div>
<div class="t" style="left:266.20px;top:810.00px;font-size:12px;color:#555;font-weight:normal;letter-spacing:0.135px;">{urn:switchyard-quickstart-demo:orders:0.1.0}OrderService</div>
<div class="t" style="left:819.17px;top:810.00px;font-size:12px;color:#555;font-weight:normal;letter-spacing:0.262px;">submitOrder</div>
<div class="t" style="left:956.82px;top:810.00px;font-size:12px;color:#555;font-weight:normal;letter-spacing:0.151px;">ERROR</div>
<div class="t" style="left:1092.79px;top:810.00px;font-size:12px;color:#555;font-weight:normal;letter-spacing:0.326px;">1404120891550</div>
<div class="abs" style="left:235px;top:831px;width:1011px;height:28px;background:#ffffff"></div>
<div class="abs" style="left:235px;top:859px;width:1011px;height:1px;background:#dddddd"></div>
<div class="t" style="left:266.20px;top:839.00px;font-size:12px;color:#555;font-weight:normal;letter-spacing:0.135px;">{urn:switchyard-quickstart-demo:orders:0.1.0}OrderService</div>
<div class="t" style="left:819.17px;top:839.00px;font-size:12px;color:#555;font-weight:normal;letter-spacing:0.262px;">submitOrder</div>
<div class="t" style="left:956.82px;top:839.00px;font-size:12px;color:#555;font-weight:normal;letter-spacing:0.151px;">ERROR</div>
<div class="t" style="left:1092.79px;top:839.00px;font-size:12px;color:#555;font-weight:normal;letter-spacing:0.326px;">1404120891550</div>
<div class="abs" style="left:235px;top:860px;width:1011px;height:28px;background:#f9f9f9"></div>
<div class="abs" style="left:235px;top:888px;width:1011px;height:1px;background:#dddddd"></div>
<div class="t" style="left:266.20px;top:868.00px;font-size:12px;color:#555;font-weight:normal;letter-spacing:0.135px;">{urn:switchyard-quickstart-demo:orders:0.1.0}OrderService</div>
<div class="t" style="left:819.17px;top:868.00px;font-size:12px;color:#555;font-weight:normal;letter-spacing:0.262px;">submitOrder</div>
<div class="t" style="left:956.82px;top:868.00px;font-size:12px;color:#555;font-weight:normal;letter-spacing:0.151px;">ERROR</div>
<div class="t" style="left:1092.79px;top:868.00px;font-size:12px;color:#555;font-weight:normal;letter-spacing:0.326px;">1404120891550</div>
</div>
<div class="abs" style="left:1276px;top:77px;width:1px;height:886px;background:#f6f6f6"></div>
<div class="abs" style="left:1277px;top:77px;width:15px;height:886px;background:#d6d5d3;border-left:1px solid #5f6b7b;border-right:1px solid #5b6677"></div>
<div class="abs" style="left:1278px;top:92px;width:1px;height:856px;background:#e6e4e1"></div>
<div class="abs" style="left:1290px;top:92px;width:1px;height:856px;background:#e6e4e1"></div>
<div class="abs" style="left:1277px;top:77px;width:15px;height:15px;background:#fcfcfb;border:1px solid #5f6b7b;border-radius:3px 3px 0 0"></div>
<svg class="abs" style="left:1280px;top:82px" width="9" height="6"><path d="M0.5 5.5 L4.5 0.8 L8.5 5.5Z" fill="#000"/></svg>
<div class="abs" style="left:1277px;top:948px;width:15px;height:15px;background:#fcfcfb;border:1px solid #5f6b7b;border-radius:0 0 3px 3px"></div>
<svg class="abs" style="left:1280px;top:953px" width="9" height="6"><path d="M0.5 0.5 L4.5 5.2 L8.5 0.5Z" fill="#000"/></svg>
<div class="abs" style="left:1277px;top:343px;width:15px;height:233px;background:linear-gradient(90deg,#97b9e8 0,#97b9e8 50%,#8fb0dd 50%,#8fb0dd 100%);border:1px solid #5f6b7b"></div>
<div class="abs" style="left:1282px;top:456px;width:5px;height:1px;background:#5a6e8e"></div>
<div class="abs" style="left:1282px;top:459px;width:5px;height:1px;background:#5a6e8e"></div>
<div class="abs" style="left:1282px;top:462px;width:5px;height:1px;background:#5a6e8e"></div>
</body></html>
